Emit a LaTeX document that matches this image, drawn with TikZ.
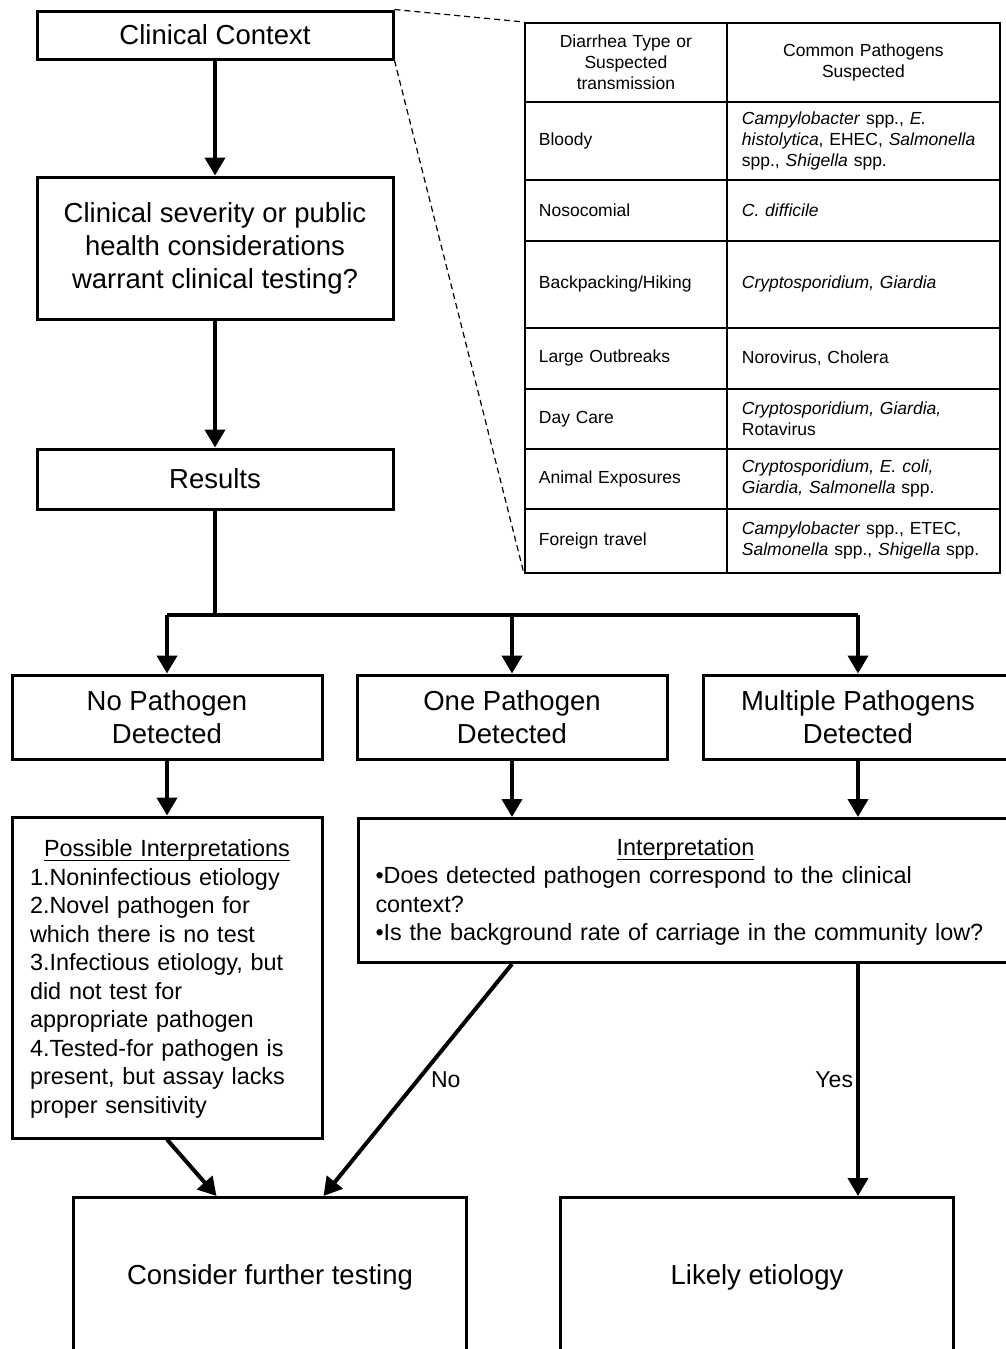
\documentclass[tikz,border=0pt]{standalone}
\usepackage{fontspec}
\setmainfont{Liberation Sans}
\usetikzlibrary{positioning, arrows.meta}

\newcommand\bigfont{\fontsize{27.5}{33}\selectfont}
\newcommand\midfont{\fontsize{23.4}{28.5}\selectfont}
\newcommand\tabfont{\fontsize{17.5}{21}\selectfont}
\newcommand\labfont{\fontsize{23}{27}\selectfont}

\begin{document}
\begin{tikzpicture}[
  x=1pt, y=1pt,
  flowbox/.style={
    rectangle, draw, line width=3pt, inner sep=0pt,
    align=center, font=\bigfont
  },
  textbox/.style={
    rectangle, draw, line width=3pt, inner ysep=0pt,
    align=left, font=\midfont
  },
  cell/.style={
    rectangle, draw, line width=1.8pt, anchor=north west,
    inner ysep=0pt, align=left, font=\tabfont
  },
  arr/.style={-{Triangle[length=18pt, width=20pt]}, line width=4pt},
  link/.style={line width=4pt},
  zoomline/.style={line width=1.2pt, dash pattern=on 6pt off 4pt},
]
\useasboundingbox (0,0) rectangle (1006,-1349);
\clip (0,0) rectangle (1006,-1349);

% main column
\node[flowbox, minimum width=356pt, minimum height=48pt] (ctx) at (215,-35) {Clinical Context};
\node[flowbox, minimum width=356pt, minimum height=142pt, below=115pt of ctx] (sev)
  {Clinical severity or public\\health considerations\\warrant clinical testing?};
\node[flowbox, minimum width=356pt, minimum height=60pt, below=127pt of sev] (res) {Results};

\draw[arr] (ctx) -- (sev);
\draw[arr] (sev) -- (res);

% three outcomes
\coordinate (fork) at (215,-615);
\node[flowbox, minimum width=310pt, minimum height=84pt] (nopath) at (167,-717) {No Pathogen\\Detected};
\node[flowbox, minimum width=310pt, minimum height=84pt, right=32pt of nopath] (onepath) {One Pathogen\\Detected};
\node[flowbox, minimum width=310pt, minimum height=84pt, right=33pt of onepath] (multi) {Multiple Pathogens\\Detected};

\draw[link] (res.south) -- (fork);
\draw[link] (nopath |- fork) -- (multi |- fork);
\foreach \b in {nopath, onepath, multi} {
  \draw[arr] (\b |- fork) -- (\b.north);
}

% interpretations
\node[textbox, text width=274pt, inner xsep=18pt, minimum height=321pt, below=55pt of nopath] (poss) {%
  \makebox[\linewidth]{\strut\underline{\smash{Possible Interpretations}\rule[-2pt]{0pt}{2pt}}}\\
  1.Noninfectious etiology\\
  2.Novel pathogen for\\
  which there is no test\\
  3.Infectious etiology, but\\
  did not test for\\
  appropriate pathogen\\
  4.Tested-for pathogen is\\
  present, but assay lacks\\
  proper sensitivity};
\node[textbox, text width=620pt, inner xsep=17pt, minimum height=144pt, anchor=north west] (interp) at (357,-817) {%
  \makebox[\linewidth]{\strut\underline{\smash{Interpretation}\rule[-2pt]{0pt}{2pt}}}\\
  •Does detected pathogen correspond to the clinical\\
  context?\\
  •Is the background rate of carriage in the community low?};

\foreach \b/\t in {nopath/poss, onepath/interp, multi/interp} {
  \draw[arr] (\b.south) -- (\b.south |- \t.north);
}

% end points
\node[flowbox, minimum width=393pt, minimum height=160pt, anchor=north west] (consider) at (72,-1196) {Consider further testing};
\node[flowbox, minimum width=393pt, minimum height=160pt, right=91pt of consider] (likely) {Likely etiology};

\draw[arr] (poss.south) -- ([xshift=-53.5pt]consider.north);
\draw[arr] (onepath.south |- interp.south) --
  node[right=8pt, font=\labfont] (nolab) {No} ([xshift=53.5pt]consider.north);
\draw[arr] (multi.south |- interp.south) --
  node[left=1pt, inner xsep=2pt, font=\labfont] (yeslab) {Yes} (multi.south |- consider.north);

% table of settings
\node[cell, align=center, text width=174pt, inner xsep=14pt, minimum height=79pt] (head1) at (524,-22)
  {Diarrhea Type or\\Suspected\\transmission};
\node[cell, align=center, text width=243pt, inner xsep=15pt, minimum height=79pt] (head2) at (726,-22)
  {Common Pathogens\\Suspected};
\foreach \y/\h/\kind/\bugs [count=\r] in {
  101/78/Bloody/{\textit{Campylobacter} spp., \textit{E.}\\\textit{histolytica}, EHEC, \textit{Salmonella}\\spp., \textit{Shigella} spp.},
  179/61/Nosocomial/{\textit{C. difficile}},
  240/87/{Backpacking/Hiking}/{\textit{Cryptosporidium, Giardia}},
  327/61/Large Outbreaks/{Norovirus, Cholera},
  388/60/Day Care/{\textit{Cryptosporidium, Giardia,}\\Rotavirus},
  448/60/Animal Exposures/{\textit{Cryptosporidium, E. coli,}\\\textit{Giardia, Salmonella} spp.},
  508/64/Foreign travel/{\textit{Campylobacter} spp., ETEC,\\\textit{Salmonella} spp., \textit{Shigella} spp.}
} {
  \node[cell, text width=174pt, inner xsep=14pt, minimum height=\h pt] (kind\r) at (524,-\y) {\kind};
  \node[cell, text width=243pt, inner xsep=15pt, minimum height=\h pt] (bugs\r) at (726,-\y) {\bugs};
}

\draw[zoomline] (ctx.north east) -- (head1.north west);
\draw[zoomline] (ctx.south east) -- (kind7.south west);
\end{tikzpicture}
\end{document}
